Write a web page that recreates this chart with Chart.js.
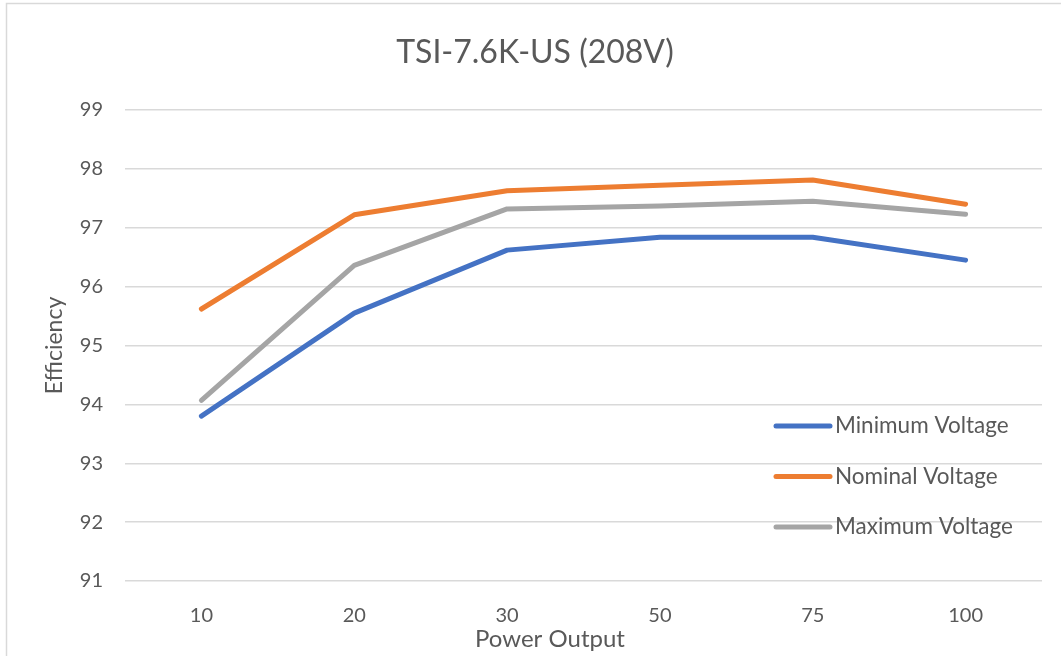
<!DOCTYPE html>
<html>
<head>
<meta charset="utf-8">
<title>TSI-7.6K-US (208V)</title>
<script src="https://cdn.jsdelivr.net/npm/chart.js@4.4.0/dist/chart.umd.min.js"></script>
<style>
    html, body { margin: 0; padding: 0; background: #fff; }
    #wrap { position: absolute; left: 0; top: 0; width: 1061px; height: 656px; }
</style>
</head>
<body>
<div id="wrap"><canvas id="effChart" width="1061" height="656"></canvas></div>
<script>
// data
const powerOutput = ['10', '20', '30', '50', '75', '100'];
const minVoltage = [93.80, 95.55, 96.62, 96.84, 96.84, 96.45];
const nomVoltage = [95.62, 97.22, 97.63, 97.72, 97.81, 97.40];
const maxVoltage = [94.07, 96.36, 97.32, 97.37, 97.45, 97.23];
const seriesNames = ['Minimum Voltage', 'Nominal Voltage', 'Maximum Voltage'];
const seriesColors = ['#4472C4', '#ED7D31', '#A5A5A5'];

const textColor = '#595959';
const gridColor = '#d9d9d9';
const fontFamily = 'Lato, "Noto Sans", sans-serif';

// white page + thin frame like the Excel chart area
const framePlugin = {
    id: 'frame',
    beforeDraw(chart) {
        const c = chart.ctx;
        c.save();
        c.fillStyle = '#fff';
        c.fillRect(0, 0, chart.width, chart.height);
        c.strokeStyle = '#d9d9d9';
        c.lineWidth = 1.5;
        c.strokeRect(6.5, 3.5, chart.width + 20, chart.height + 20);
        c.restore();
    }
};

// legend sits inside the plot, lower right
const insideLegend = {
    id: 'insideLegend',
    afterDatasetsDraw(chart) {
        const c = chart.ctx;
        const area = chart.chartArea;
        const x0 = area.right - 266;
        const y0 = area.bottom - 155;
        c.save();
        c.font = '22.5px ' + fontFamily;
        c.textBaseline = 'middle';
        c.textAlign = 'left';
        chart.data.datasets.forEach((ds, i) => {
            const y = y0 + i * 50.5;
            c.strokeStyle = ds.borderColor;
            c.lineWidth = 5;
            c.lineCap = 'round';
            c.beginPath();
            c.moveTo(x0, y);
            c.lineTo(x0 + 54, y);
            c.stroke();
            c.fillStyle = textColor;
            c.fillText(ds.label, x0 + 59, y);
        });
        c.restore();
    }
};

// x axis caption is centred on the whole chart, not on the plot
const xCaption = {
    id: 'xCaption',
    afterDraw(chart) {
        const c = chart.ctx;
        c.save();
        c.font = '24px ' + fontFamily;
        c.fillStyle = textColor;
        c.textAlign = 'center';
        c.textBaseline = 'middle';
        c.fillText('Power Output', 550, 639);
        c.restore();
    }
};

const ctx = document.getElementById('effChart').getContext('2d');
const seriesData = [minVoltage, nomVoltage, maxVoltage];

const effChart = new Chart(ctx, {
    type: 'line',
    data: {
        labels: powerOutput,
        datasets: seriesNames.map((name, i) => ({
            label: name,
            data: seriesData[i],
            borderColor: seriesColors[i],
            backgroundColor: seriesColors[i],
            borderWidth: 5,
            borderCapStyle: 'round',
            borderJoinStyle: 'round',
            pointRadius: 0,
            tension: 0,
            fill: false
        }))
    },
    options: {
        responsive: false,
        animation: false,
        devicePixelRatio: 1,
        layout: {
            padding: { left: 28, right: 19, top: 0, bottom: 0 }
        },
        plugins: {
            legend: { display: false },
            tooltip: { enabled: false },
            title: {
                display: true,
                text: 'TSI-7.6K-US (208V)',
                color: textColor,
                font: { family: fontFamily, size: 32, weight: 'normal', lineHeight: 1.2 },
                padding: { top: 33, bottom: 38.6 }
            }
        },
        scales: {
            x: {
                offset: true,
                grid: { display: false, drawTicks: false },
                border: { display: false },
                ticks: {
                    color: textColor,
                    padding: 23,
                    font: { family: fontFamily, size: 20 }
                },
                afterFit(scale) { scale.height = 75; }
            },
            y: {
                min: 91,
                max: 99,
                grid: { color: gridColor, lineWidth: 1.5, drawTicks: false },
                border: { display: false },
                ticks: {
                    stepSize: 1,
                    color: textColor,
                    padding: 22,
                    font: { family: fontFamily, size: 20 }
                },
                title: {
                    display: true,
                    text: 'Efficiency',
                    color: textColor,
                    font: { family: fontFamily, size: 23, lineHeight: 1.2 },
                    padding: { top: 13, bottom: 0 }
                },
                afterFit(scale) { scale.width = 97; }
            }
        }
    },
    plugins: [framePlugin, insideLegend, xCaption]
});
</script>
</body>
</html>
